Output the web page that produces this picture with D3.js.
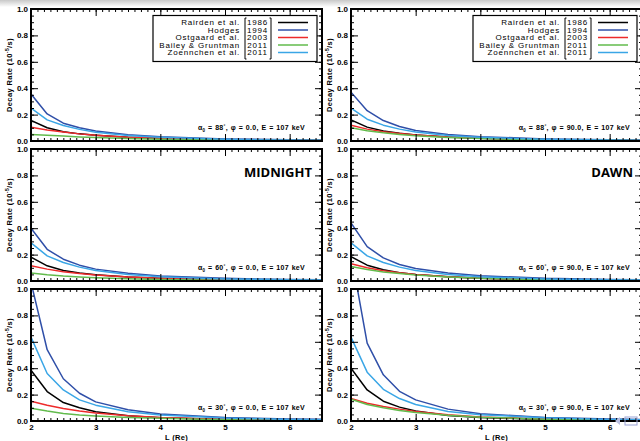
<html>
<head>
    <script src="https://d3js.org/d3.v7.min.js"></script>
    <style>
        body { margin: 0; background: white; }
        text { font-family: "Liberation Sans", Arial, sans-serif; font-weight: bold; }
    </style>
</head>
<body>
    <svg id="chart" width="640" height="441"></svg>
    <script>

        // L shell values sampled off the figure
        const L = [2, 2.25, 2.5, 2.75, 3, 3.5, 4, 5, 6, 6.5]

        const studies = ["Rairden et al.", "Hodges", "Ostgaard et al.", "Bailey & Gruntman", "Zoennchen et al."]
        const years = ["1986", "1994", "2003", "2011", "2011"]
        const colors = ["#000000", "#2f4fa8", "#ee2a2a", "#62bb4c", "#3aa6e6"]

        // decay rate (10^-5 /s), one row per study, same order as `studies`
        const a88_phi0 = [
            [0.156, 0.10, 0.07, 0.054, 0.044, 0.029, 0.02, 0.01, 0.005, 0.004],
            [0.356, 0.205, 0.135, 0.10, 0.076, 0.048, 0.032, 0.016, 0.009, 0.007],
            [0.104, 0.083, 0.068, 0.054, 0.043, 0.029, 0.02, 0.01, 0.005, 0.004],
            [0.05, 0.043, 0.037, 0.031, 0.026, 0.018, 0.013, 0.007, 0.004, 0.003],
            [0.25, 0.16, 0.117, 0.088, 0.067, 0.042, 0.028, 0.013, 0.007, 0.006]
        ]
        const a88_phi90 = [
            [0.16, 0.105, 0.075, 0.058, 0.046, 0.03, 0.02, 0.01, 0.005, 0.004],
            [0.37, 0.23, 0.155, 0.11, 0.08, 0.05, 0.033, 0.016, 0.009, 0.007],
            [0.12, 0.09, 0.07, 0.057, 0.045, 0.03, 0.02, 0.01, 0.005, 0.004],
            [0.10, 0.078, 0.062, 0.05, 0.04, 0.027, 0.018, 0.009, 0.005, 0.004],
            [0.25, 0.165, 0.12, 0.09, 0.068, 0.042, 0.028, 0.013, 0.007, 0.006]
        ]
        const a60_phi0 = [
            [0.18, 0.115, 0.08, 0.06, 0.048, 0.03, 0.02, 0.01, 0.005, 0.004],
            [0.40, 0.24, 0.165, 0.12, 0.09, 0.058, 0.038, 0.02, 0.011, 0.009],
            [0.115, 0.09, 0.07, 0.056, 0.045, 0.03, 0.02, 0.01, 0.005, 0.004],
            [0.06, 0.047, 0.037, 0.03, 0.025, 0.017, 0.012, 0.006, 0.004, 0.003],
            [0.29, 0.19, 0.14, 0.105, 0.08, 0.05, 0.033, 0.016, 0.009, 0.007]
        ]
        const a60_phi90 = [
            [0.185, 0.12, 0.085, 0.063, 0.05, 0.032, 0.021, 0.01, 0.005, 0.004],
            [0.44, 0.26, 0.175, 0.125, 0.095, 0.06, 0.04, 0.02, 0.011, 0.009],
            [0.13, 0.10, 0.078, 0.062, 0.05, 0.032, 0.021, 0.01, 0.005, 0.004],
            [0.11, 0.087, 0.069, 0.056, 0.045, 0.03, 0.02, 0.01, 0.005, 0.004],
            [0.29, 0.19, 0.14, 0.105, 0.08, 0.05, 0.033, 0.016, 0.009, 0.007]
        ]
        const a30_phi0 = [
            [0.385, 0.223, 0.14, 0.10, 0.07, 0.04, 0.025, 0.011, 0.006, 0.005],
            [1.05, 0.54, 0.32, 0.21, 0.145, 0.085, 0.053, 0.026, 0.015, 0.013],
            [0.149, 0.12, 0.095, 0.076, 0.06, 0.04, 0.027, 0.013, 0.007, 0.005],
            [0.097, 0.075, 0.057, 0.046, 0.038, 0.027, 0.02, 0.01, 0.006, 0.005],
            [0.636, 0.36, 0.235, 0.16, 0.12, 0.07, 0.046, 0.023, 0.012, 0.01]
        ]
        const a30_phi90 = [
            [0.40, 0.235, 0.15, 0.105, 0.075, 0.042, 0.026, 0.012, 0.006, 0.005],
            [1.27, 0.59, 0.35, 0.225, 0.16, 0.09, 0.055, 0.027, 0.015, 0.012],
            [0.17, 0.135, 0.11, 0.09, 0.072, 0.047, 0.031, 0.015, 0.008, 0.006],
            [0.165, 0.125, 0.10, 0.08, 0.065, 0.043, 0.029, 0.014, 0.007, 0.006],
            [0.635, 0.37, 0.24, 0.17, 0.125, 0.072, 0.048, 0.024, 0.012, 0.01]
        ]

        const yTicks = [0.0, 0.2, 0.4, 0.6, 0.8, 1.0]
        const xTicks = [2, 3, 4, 5, 6]

        const panels = [
            { data: a88_phi0, alpha: "88", phi: "0.0", col: 0, row: 0, legend: true },
            { data: a88_phi90, alpha: "88", phi: "90.0", col: 1, row: 0, legend: true },
            { data: a60_phi0, alpha: "60", phi: "0.0", col: 0, row: 1, tag: "MIDNIGHT" },
            { data: a60_phi90, alpha: "60", phi: "90.0", col: 1, row: 1, tag: "DAWN" },
            { data: a30_phi0, alpha: "30", phi: "0.0", col: 0, row: 2, xlab: true },
            { data: a30_phi90, alpha: "30", phi: "90.0", col: 1, row: 2, xlab: true }
        ]

        const svg = d3.select("#chart")

        // faint slide shadow along the top
        const grad = svg.append("defs").append("linearGradient")
            .attr("id", "shade").attr("x1", 0).attr("y1", 0).attr("x2", 0).attr("y2", 1)
        grad.append("stop").attr("offset", "0%").attr("stop-color", "#c8c8c8")
        grad.append("stop").attr("offset", "100%").attr("stop-color", "#ffffff")
        svg.append("rect").attr("x", 0).attr("y", 0).attr("width", 640).attr("height", 7)
            .attr("fill", "url(#shade)")

        const colX = [31, 351]
        const plotW = 291
        const plotH = 132

        panels.forEach((p, i) => {
            const x0 = colX[p.col]
            const y0 = 9 + p.row * 140
            const g = svg.append("g").attr("transform", `translate(${x0},${y0})`)

            const x = d3.scaleLinear().domain([2, 6.5]).range([0, plotW])
            const y = d3.scaleLinear().domain([0, 1]).range([plotH, 0])

            g.append("clipPath").attr("id", "clip" + i)
                .append("rect").attr("width", plotW).attr("height", plotH)

            g.append("rect").attr("width", plotW).attr("height", plotH).attr("fill", "white")

            // curves
            const line = d3.line().x((d, j) => x(L[j])).y(d => y(d))
            g.append("g").attr("clip-path", `url(#clip${i})`)
                .selectAll("path").data(p.data).join("path")
                .attr("d", line)
                .attr("fill", "none")
                .attr("stroke", (d, k) => colors[k])
                .attr("stroke-width", 1.5)
                .attr("stroke-linejoin", "round")

            // IDL-style inward ticks on all four sides
            const minorX = d3.range(20, 66).map(v => v / 10)
            const minorY = d3.range(0, 21).map(v => v / 20)
            const tickAxis = (ax, sel, size, vals) => {
                sel.call(ax.tickValues(vals).tickSize(size).tickFormat(""))
                sel.select(".domain").remove()
                sel.selectAll("line").attr("stroke", "black").attr("stroke-width", 1)
            }
            tickAxis(d3.axisBottom(x), g.append("g").attr("transform", `translate(0,${plotH})`), -3, minorX)
            tickAxis(d3.axisBottom(x), g.append("g").attr("transform", `translate(0,${plotH})`), -7, xTicks)
            tickAxis(d3.axisTop(x), g.append("g"), -3, minorX)
            tickAxis(d3.axisTop(x), g.append("g"), -7, xTicks)
            tickAxis(d3.axisLeft(y), g.append("g"), -3, minorY)
            tickAxis(d3.axisLeft(y), g.append("g"), -7, yTicks)
            tickAxis(d3.axisRight(y), g.append("g").attr("transform", `translate(${plotW},0)`), -3, minorY)
            tickAxis(d3.axisRight(y), g.append("g").attr("transform", `translate(${plotW},0)`), -7, yTicks)

            // y labels
            const yl = g.append("g").call(d3.axisLeft(y).tickValues(yTicks).tickSize(0).tickPadding(3).tickFormat(d3.format(".1f")))
            yl.select(".domain").remove()
            yl.selectAll("text").style("font-size", "8px").style("font-weight", "bold").attr("fill", "black")

            if (p.xlab) {
                const xl = g.append("g").attr("transform", `translate(0,${plotH})`)
                    .call(d3.axisBottom(x).tickValues(xTicks).tickSize(0).tickPadding(3).tickFormat(d3.format("d")))
                xl.select(".domain").remove()
                xl.selectAll("text").style("font-size", "8px").style("font-weight", "bold").attr("fill", "black")
                g.append("text").attr("x", plotW / 2).attr("y", plotH + 19)
                    .attr("text-anchor", "middle").style("font-size", "7.5px").style("letter-spacing", "0.3px")
                    .text("L (Re)")
            }

            // frame
            g.append("rect").attr("width", plotW).attr("height", plotH)
                .attr("fill", "none").attr("stroke", "black").attr("stroke-width", 2)

            // y title
            const yt = g.append("text")
                .attr("transform", `translate(-19,${plotH / 2}) rotate(-90)`)
                .attr("text-anchor", "middle").style("font-size", "7.5px").style("letter-spacing", "0.4px")
            yt.append("tspan").text("Decay Rate (10")
            yt.append("tspan").attr("dy", -3).style("font-size", "5px").text("-5")
            yt.append("tspan").attr("dy", 3).text("/s)")

            // parameter annotation
            const an = g.append("text")
                .attr("x", plotW - (p.col ? 12 : 17)).attr("y", plotH - 11)
                .attr("text-anchor", "end").style("font-size", "7px").style("letter-spacing", "0.3px")
                .style("word-spacing", "0.5px")
            an.append("tspan").text("\u03b1")
            an.append("tspan").attr("dy", 1.5).style("font-size", "4.5px").text("0")
            an.append("tspan").attr("dy", -1.5).text(" = " + p.alpha)
            an.append("tspan").attr("dy", -2.5).style("font-size", "4.5px").text("\u00b0")
            an.append("tspan").attr("dy", 2.5).text(", \u03c6 = " + p.phi + ", E = 107 keV")

            if (p.tag) {
                g.append("text").attr("x", plotW - (p.col ? 9 : 10)).attr("y", 28)
                    .attr("text-anchor", "end")
                    .style("font-family", "'Open Sans', 'Noto Sans', sans-serif")
                    .style("font-size", "13px").style("font-weight", "bold")
                    .text(p.tag)
            }

            if (p.legend) {
                const lg = g.append("g").attr("transform", `translate(${plotW - 169},6.5)`)
                lg.append("rect").attr("width", 164).attr("height", 46)
                    .attr("fill", "white").attr("stroke", "black").attr("stroke-width", 1.2)
                studies.forEach((s, k) => {
                    const cy = 7 + k * 7.5
                    lg.append("text").attr("x", 87).attr("y", cy + 2.8).attr("text-anchor", "end")
                        .style("font-size", "8px").style("font-weight", "normal").style("letter-spacing", "0.8px")
                        .text(s)
                    lg.append("text").attr("x", 104.5).attr("y", cy + 2.8).attr("text-anchor", "middle")
                        .style("font-size", "8px").style("font-weight", "normal").style("letter-spacing", "0.8px")
                        .text(years[k])
                    lg.append("line").attr("x1", 125).attr("x2", 155).attr("y1", cy).attr("y2", cy)
                        .attr("stroke", colors[k]).attr("stroke-width", 1.5)
                })
                // bracket marks round the year column
                lg.append("path")
                    .attr("d", "M93.5,2.5 H92 V43.5 H93.5 M116.5,2.5 H118 V43.5 H116.5")
                    .attr("fill", "none").attr("stroke", "black").attr("stroke-width", 1)
            }
        })

        // slide navigation glyph in the corner
        svg.append("path").attr("d", "M620,417 L615,421 L620,425 Z").attr("fill", "#b9bfe0")
        svg.append("rect").attr("x", 625).attr("y", 417).attr("width", 12).attr("height", 8)
            .attr("fill", "none").attr("stroke", "#9aa3d6").attr("stroke-width", 1)

    </script>
</body>
</html>
